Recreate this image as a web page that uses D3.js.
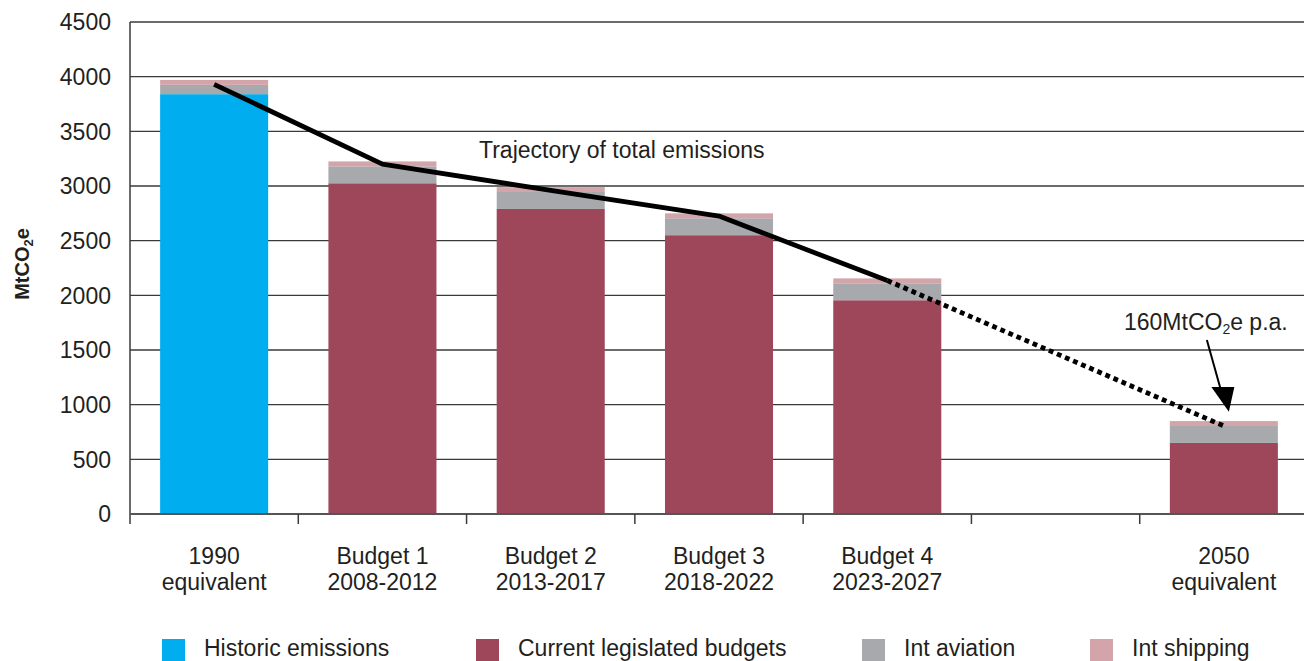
<!DOCTYPE html>
<html>
<head>
<meta charset="utf-8">
<script src="https://cdn.jsdelivr.net/npm/d3@7"></script>
<style>
  html, body { margin: 0; padding: 0; background: #fff; }
  svg { display: block; }
  text { font-family: "Liberation Sans", Arial, Helvetica, sans-serif; fill: #231f20; }
</style>
</head>
<body>
<svg id="chart" width="1304" height="661"></svg>
<script>
// ---- Data ----
const categories = ["1990", "B1", "B2", "B3", "B4", "gap", "2050"];
const labelLine1 = ["1990", "Budget 1", "Budget 2", "Budget 3", "Budget 4", "", "2050"];
const labelLine2 = ["equivalent", "2008-2012", "2013-2017", "2018-2022", "2023-2027", "", "equivalent"];
const historic   = [3840, 0, 0, 0, 0, null, 0];
const budgets    = [0, 3025, 2790, 2550, 1955, null, 650];
const aviation   = [85, 155, 155, 155, 155, null, 155];
const shipping   = [45, 45, 45, 45, 45, null, 45];
const trajectory = [3930, 3200, 2960, 2725, 2135, null, 805];
const yTicks = [0, 500, 1000, 1500, 2000, 2500, 3000, 3500, 4000, 4500];
const seriesNames = ["Historic emissions", "Current legislated budgets", "Int aviation", "Int shipping"];
const seriesColors = ["#00aeef", "#9e465a", "#a7a9ac", "#d3a5ab"];

// ---- Layout ----
const svg = d3.select("#chart");
const mL = 130, mR = 1308, mT = 22, mB = 514;
const fs = 23;

const x = d3.scaleBand().domain(categories).range([mL, mR])
  .paddingInner(0.358).paddingOuter(0.179);
const xStep = d3.scaleBand().domain(categories).range([mL, mR]).padding(0);
const y = d3.scaleLinear().domain([0, 4500]).range([mB, mT]);

// gridlines
svg.append("g").selectAll("line").data(yTicks.filter(d => d > 0)).join("line")
  .attr("x1", mL).attr("x2", 1304)
  .attr("y1", d => y(d)).attr("y2", d => y(d))
  .attr("stroke", "#3a3a3a").attr("stroke-width", 1.3);

// y tick labels
svg.append("g").selectAll("text").data(yTicks).join("text")
  .attr("x", 111).attr("y", d => y(d)).attr("dy", "0.36em")
  .attr("text-anchor", "end").attr("font-size", fs).text(d => d);

// stacked bars
const rows = categories.map((c, i) => ({ cat: c, vals: [historic[i], budgets[i], aviation[i], shipping[i]] }))
  .filter((r, i) => budgets[i] !== null);
const segs = [];
rows.forEach(r => {
  let acc = 0;
  r.vals.forEach((v, k) => {
    if (v > 0) { segs.push({ cat: r.cat, y0: acc, y1: acc + v, k }); acc += v; }
  });
});
svg.append("g").selectAll("rect").data(segs).join("rect")
  .attr("x", d => x(d.cat)).attr("width", x.bandwidth())
  .attr("y", d => y(d.y1)).attr("height", d => y(d.y0) - y(d.y1))
  .attr("fill", d => seriesColors[d.k]);

// axes lines
svg.append("line").attr("x1", mL).attr("x2", mL).attr("y1", mT).attr("y2", mB + 10)
  .attr("stroke", "#3a3a3a").attr("stroke-width", 1.5);
svg.append("line").attr("x1", mL).attr("x2", 1304).attr("y1", mB).attr("y2", mB)
  .attr("stroke", "#555").attr("stroke-width", 2);
// x ticks at band boundaries
const bounds = categories.map(c => xStep(c)).slice(1);
svg.append("g").selectAll("line").data(bounds).join("line")
  .attr("x1", d => d).attr("x2", d => d).attr("y1", mB).attr("y2", mB + 10)
  .attr("stroke", "#3a3a3a").attr("stroke-width", 1.5);

// x labels
const xl = svg.append("g");
categories.forEach((c, i) => {
  const cx = x(c) + x.bandwidth() / 2;
  xl.append("text").attr("x", cx).attr("y", 564).attr("text-anchor", "middle").attr("font-size", fs).text(labelLine1[i]);
  xl.append("text").attr("x", cx).attr("y", 590).attr("text-anchor", "middle").attr("font-size", fs).text(labelLine2[i]);
});

// y axis title
const yt = svg.append("text").attr("transform", "translate(29,264) rotate(-90)")
  .attr("text-anchor", "middle").attr("font-size", 20).attr("font-weight", "bold");
yt.append("tspan").text("MtCO");
yt.append("tspan").attr("font-size", 13).attr("dy", 4).text("2");
yt.append("tspan").attr("dy", -4).text("e");

// trajectory line
const pts = categories.map((c, i) => ({ c, v: trajectory[i] })).filter(d => d.v !== null);
const lineGen = d3.line().x(d => x(d.c) + x.bandwidth() / 2).y(d => y(d.v));
const solidPts = pts.slice(0, 5);
const dotPts = pts.slice(4);
svg.append("path").attr("d", lineGen(solidPts)).attr("fill", "none")
  .attr("stroke", "#000").attr("stroke-width", 4.8).attr("stroke-linejoin", "round");
svg.append("path").attr("d", lineGen(dotPts)).attr("fill", "none")
  .attr("stroke", "#000").attr("stroke-width", 4.8).attr("stroke-dasharray", "4.8,4");

svg.append("text").attr("x", 479).attr("y", 158).attr("font-size", fs).text("Trajectory of total emissions");

// annotation
const ax = x("2050") + x.bandwidth() / 2;
const ann = svg.append("text").attr("x", ax - 18).attr("y", 330).attr("text-anchor", "middle").attr("font-size", fs);
ann.append("tspan").text("160MtCO");
ann.append("tspan").attr("font-size", 14).attr("dy", 4).text("2");
ann.append("tspan").attr("dy", -4).text("e p.a.");
const tipX = ax + 5, tipY = y(935);
svg.append("line").attr("x1", ax - 17).attr("y1", 340).attr("x2", ax - 3).attr("y2", 390)
  .attr("stroke", "#000").attr("stroke-width", 2);
svg.append("path").attr("d", `M${tipX},${tipY} L${ax - 12.5},${387} L${ax + 10.5},${387} Z`).attr("fill", "#000");

// legend
const legX = [162, 476, 862, 1090];
const lg = svg.append("g");
seriesNames.forEach((n, i) => {
  lg.append("rect").attr("x", legX[i]).attr("y", 639).attr("width", 23).attr("height", 22).attr("fill", seriesColors[i]);
  lg.append("text").attr("x", legX[i] + 42).attr("y", 656).attr("font-size", fs).text(n);
});
</script>
</body>
</html>
